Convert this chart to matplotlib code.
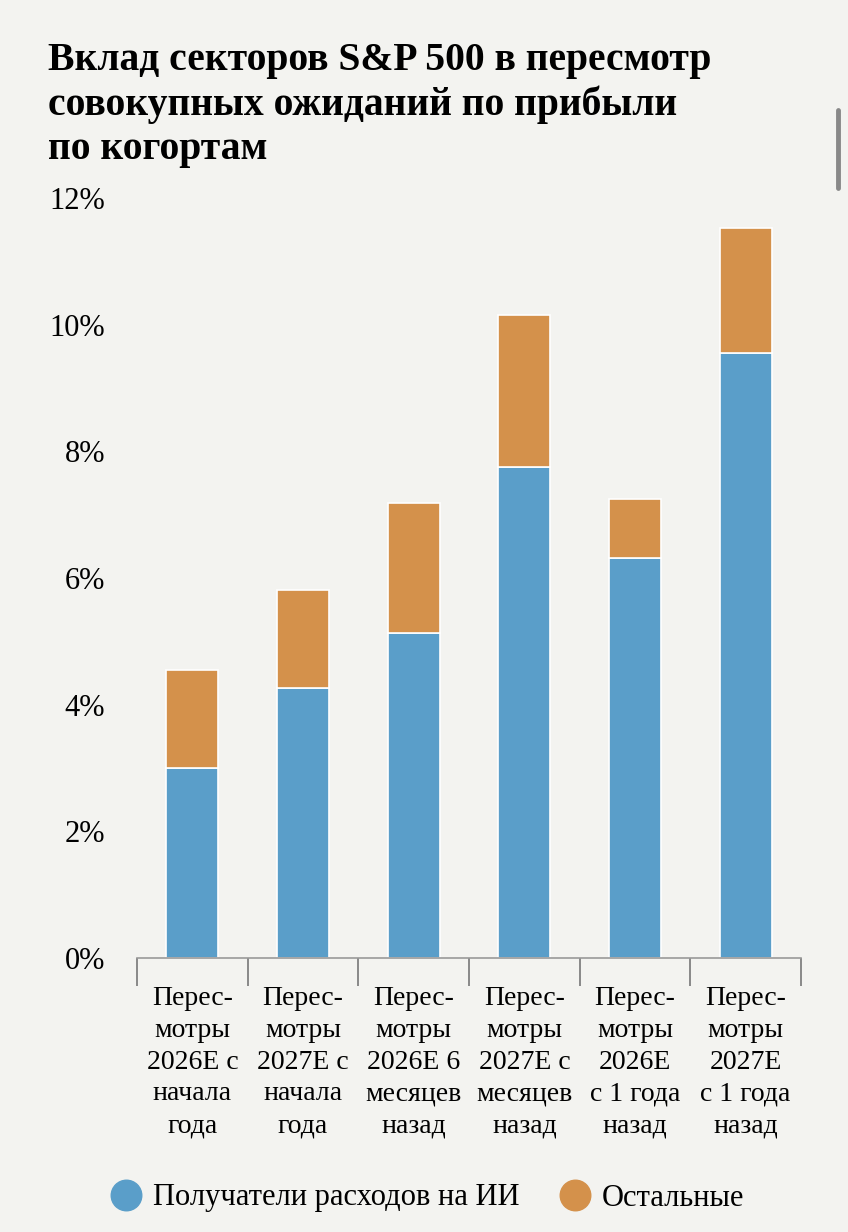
# Вклад секторов S&P 500 в пересмотр ожиданий по прибыли
import matplotlib.pyplot as plt
from matplotlib.lines import Line2D
import numpy as np

plt.rcParams["font.family"] = ["Liberation Serif", "DejaVu Serif"]
plt.rcParams["font.size"] = 17

# данные (в %)
categories = [
    "Перес-\nмотры\n2026E с\nначала\nгода",
    "Перес-\nмотры\n2027E с\nначала\nгода",
    "Перес-\nмотры\n2026E 6\nмесяцев\nназад",
    "Перес-\nмотры\n2027E с\nмесяцев\nназад",
    "Перес-\nмотры\n2026E\nс 1 года\nназад",
    "Перес-\nмотры\n2027E\nс 1 года\nназад",
]
ai_beneficiaries = [3.0, 4.27, 5.13, 7.76, 6.31, 9.56]
others = [1.55, 1.54, 2.05, 2.40, 0.93, 1.97]
y_ticks = [0, 2, 4, 6, 8, 10, 12]
series_names = ["Получатели расходов на ИИ", "Остальные"]

BLUE = "#5a9ec9"
ORANGE = "#d4914b"
BG = "#f3f3f0"

W, H = 848, 1232
fig = plt.figure(figsize=(W / 100, H / 100), dpi=100, facecolor=BG)
ax = fig.add_axes([137 / W, 1 - 958 / H, (801 - 137) / W, (958 - 198) / H])
ax.set_facecolor(BG)

x = np.arange(len(categories))
ax.bar(x, ai_beneficiaries, width=0.47, color=BLUE, edgecolor="white", linewidth=1.2)
ax.bar(x, others, bottom=ai_beneficiaries, width=0.47, color=ORANGE,
       edgecolor="white", linewidth=1.2)

ax.set_xlim(-0.5, len(categories) - 0.5)
ax.set_ylim(0, 12)
ax.set_yticks(y_ticks)
ax.set_yticklabels([f"{t}%" for t in y_ticks], fontsize=22)
ax.tick_params(axis="y", length=0, pad=23)

ax.set_xticks(np.arange(-0.5, len(categories)), minor=False)
ax.set_xticklabels([])
ax.tick_params(axis="x", direction="out", length=20, width=1.2, color="#777777")
for i, lab in enumerate(categories):
    ax.text(i, -0.44, lab, ha="center", va="top", fontsize=20, linespacing=1.36,
            transform=ax.transData)

for s in ["top", "right", "left"]:
    ax.spines[s].set_visible(False)
ax.spines["bottom"].set_color("#999999")
ax.spines["bottom"].set_linewidth(1.2)

# заголовок
fig.text(48 / W, 1 - 42 / H,
         "Вклад секторов S&P 500 в пересмотр\nсовокупных ожиданий по прибыли\nпо когортам",
         ha="left", va="top", fontsize=28.5, fontweight="bold", linespacing=1.23)

# легенда
handles = [
    Line2D([], [], marker="o", ls="", markersize=22, color=BLUE),
    Line2D([], [], marker="o", ls="", markersize=22, color=ORANGE),
]
fig.legend(handles, series_names, loc="center", bbox_to_anchor=(426 / W, 1 - 1198 / H),
           ncol=2, frameon=False, fontsize=22, handlelength=1.2,
           handletextpad=0.3, columnspacing=1.2)

# полоса прокрутки (как на скриншоте)
fig.add_artist(Line2D([838 / W, 838 / W], [1 - 110 / H, 1 - 188 / H],
                      color="#888888", lw=3.5, solid_capstyle="round"))

fig.savefig("out.png", dpi=100, facecolor=BG)
